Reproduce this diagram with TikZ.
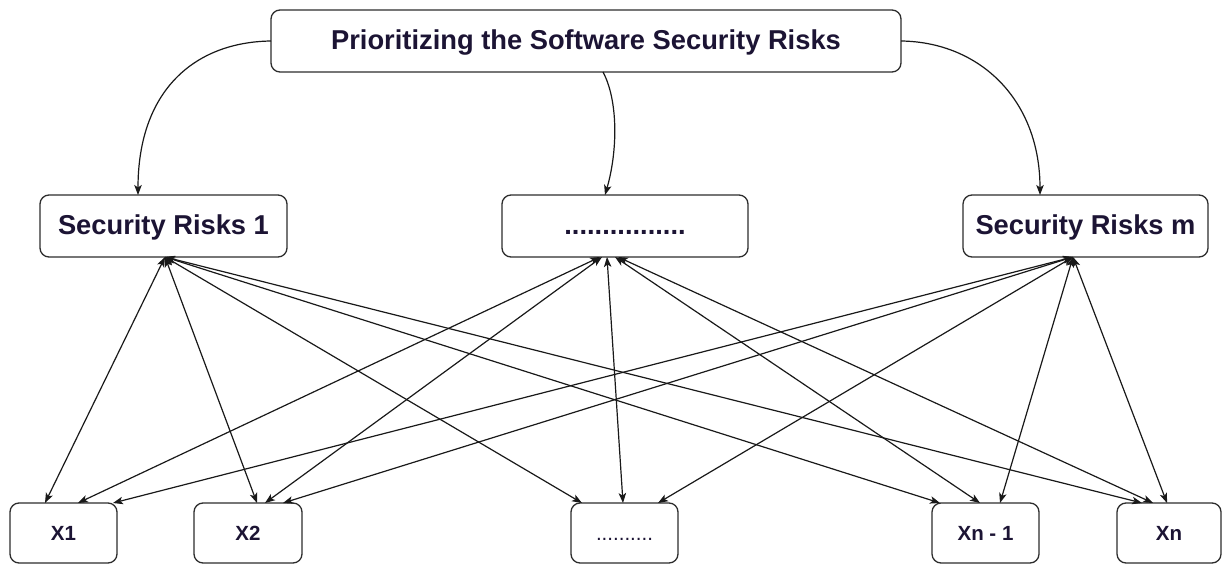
\documentclass[tikz,border=0pt]{standalone}
\usepackage{fontspec}
\setmainfont{Liberation Sans}
\usetikzlibrary{arrows.meta}
\definecolor{txt}{RGB}{28,20,52}
\definecolor{brd}{RGB}{45,45,45}
\definecolor{lnk}{RGB}{25,25,25}
\begin{document}
\begin{tikzpicture}[x=1pt,y=-1pt,
  box/.style={draw=brd, line width=1.3pt, rounded corners=9pt, inner sep=0pt, outer sep=0pt, text=txt, fill=white},
  bigbox/.style={box, minimum height=62pt, text height=19.5pt, text depth=2pt, font=\bfseries\fontsize{27.3}{30}\selectfont},
  smallbox/.style={box, minimum height=60pt, text height=14.7pt, text depth=0pt, font=\bfseries\fontsize{20.5}{24}\selectfont},
  link/.style={draw=lnk, line width=1.2pt, {Stealth[length=10pt,width=7.5pt,inset=2.5pt]}-{Stealth[length=10pt,width=7.5pt,inset=2.5pt]}},
  curvelink/.style={draw=lnk, line width=1.2pt, -{Stealth[length=10pt,width=7.5pt,inset=2.5pt]}}]
\useasboundingbox (0,0) rectangle (1223,564);
\fill[white] (0,0) rectangle (1223,564);

% nodes
\node[bigbox, minimum width=630pt] (top) at (586,41) {Prioritizing the Software Security Risks};
\node[bigbox, minimum width=247pt] (sr1) at (163.5,226) {Security Risks 1};
\node[bigbox, minimum width=246pt] (srd) at (625,226) {................};
\node[bigbox, minimum width=245pt] (srm) at (1085.5,226) {Security Risks m};

\node[smallbox, minimum width=107pt] (x1) at (63.5,533) {X1};
\node[smallbox, minimum width=108pt] (x2) at (248,533) {X2};
\node[smallbox, minimum width=107pt, font=\fontsize{20.5}{24}\selectfont] (xd) at (624.5,533) {..........};
\node[smallbox, minimum width=107pt] (xn1) at (985.5,533) {Xn - 1};
\node[smallbox, minimum width=104pt] (xn) at (1169,533) {Xn};

% curved arrows from the title
\draw[curvelink] (top.west) .. controls (195,42) and (138,90) .. ([xshift=-25.5pt]sr1.north);
\draw[curvelink] ([xshift=17pt]top.south) .. controls (618,100) and (618,150) .. ([xshift=-20pt]srd.north);
\draw[curvelink] (top.east) .. controls (980,42) and (1040,100) .. ([xshift=-45.5pt]srm.north);

% links from Security Risks 1
\draw[link] ([xshift=1.5pt]sr1.south) -- ([xshift=-18.5pt]x1.north);
\draw[link] ([xshift=1.5pt]sr1.south) -- ([xshift=9pt]x2.north);
\draw[link] ([xshift=1.5pt]sr1.south) -- ([xshift=-42.5pt]xd.north);
\draw[link] ([xshift=1.5pt]sr1.south) -- ([xshift=-45.5pt]xn1.north);
\draw[link] ([xshift=1.5pt]sr1.south) -- ([xshift=-27pt]xn.north);

% links from the middle risk
\draw[link] ([xshift=-25pt]srd.south) -- ([xshift=14.5pt]x1.north);
\draw[link] ([xshift=-23pt]srd.south) -- ([xshift=17pt]x2.north);
\draw[link] ([xshift=-18pt]srd.south) -- ([xshift=-1.5pt]xd.north);
\draw[link] ([xshift=-10pt]srd.south) -- ([xshift=-5.5pt]xn1.north);
\draw[link] ([xshift=-7pt]srd.south) -- ([xshift=-16pt]xn.north);

% links from Security Risks m
\draw[link] ([xshift=-12.5pt]srm.south) -- ([xshift=49.5pt]x1.north);
\draw[link] ([xshift=-12.5pt]srm.south) -- ([xshift=35pt]x2.north);
\draw[link] ([xshift=-12.5pt]srm.south) -- ([xshift=33.5pt]xd.north);
\draw[link] ([xshift=-12.5pt]srm.south) -- ([xshift=14.5pt]xn1.north);
\draw[link] ([xshift=-12.5pt]srm.south) -- ([xshift=-2pt]xn.north);
\end{tikzpicture}
\end{document}
